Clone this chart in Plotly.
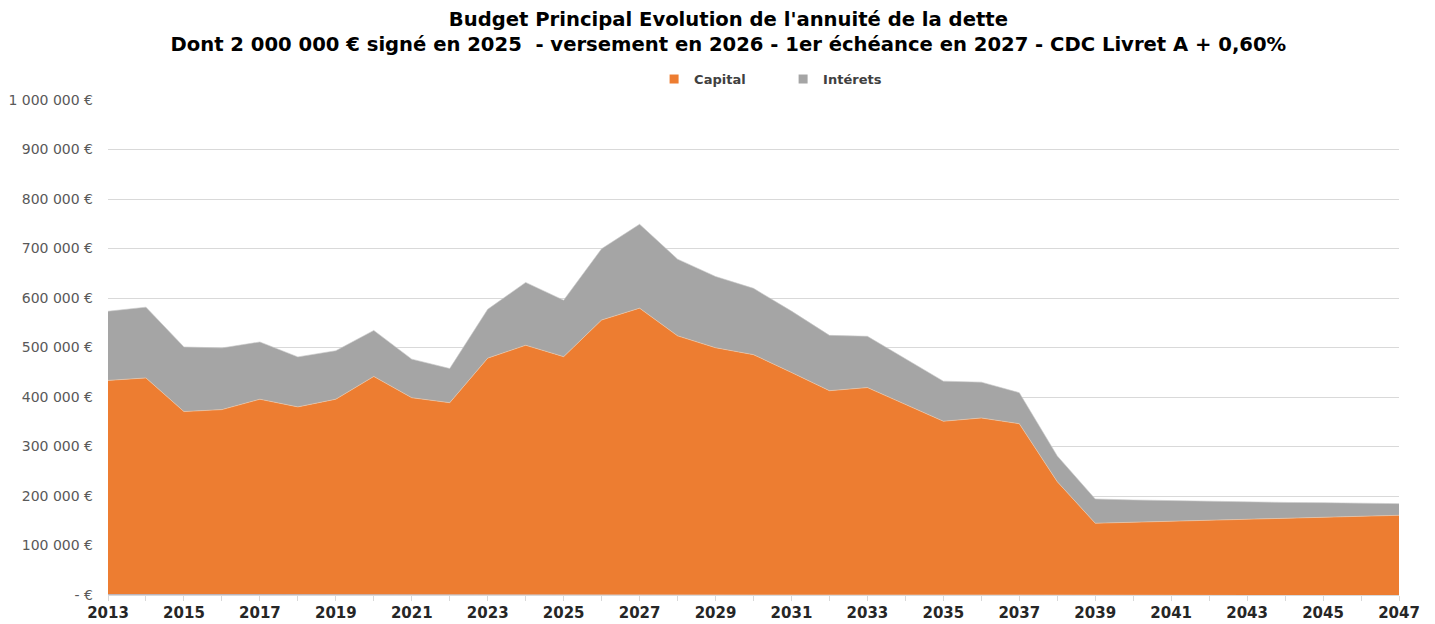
import plotly.graph_objects as go

years = list(range(2013, 2048))

# valeurs (en €)
capital = [432000, 437000, 369000, 373000, 394000, 378500, 394000, 440000, 397000, 387000,
           477000, 503000, 480000, 554000, 578000, 522000, 498000, 484000, 448000, 412700,
           419000, 384500, 351000, 357600, 346000, 229000, 145000, 147000, 149000, 151000,
           153000, 155000, 157000, 159000, 161000]
total = [571700, 580000, 499600, 497600, 509700, 479500, 492000, 533000, 475000, 456000,
         575700, 630000, 594000, 698000, 747500, 677000, 642000, 618000, 572000, 524500,
         522600, 477500, 432000, 430000, 408700, 281000, 194000, 192000, 190500, 189500,
         188000, 187000, 186500, 185500, 184500]
interets = [t - c for t, c in zip(total, capital)]
# petite série en bas (trait bleu)
autres = [1500] * 19 + [0] * 16

y_ticks = list(range(0, 1000001, 100000))
y_labels = ['- €'] + [f"{v:,}".replace(',', ' ') + ' €' for v in y_ticks[1:]]
x_ticks = list(range(2013, 2048, 2))

font = 'DejaVu Sans, Verdana, sans-serif'
orange, gris = '#ED7D31', '#A5A5A5'

fig = go.Figure()
fig.add_trace(go.Scatter(x=years, y=autres, name='Autres', stackgroup='one', mode='lines',
                         line=dict(width=0, color='#5B9BD5'), fillcolor='#8FB4E3',
                         showlegend=False, hoverinfo='skip'))
fig.add_trace(go.Scatter(x=years, y=capital, name='Capital', stackgroup='one', mode='lines',
                         line=dict(width=0.6, color='#F2C9A8'), fillcolor=orange, showlegend=False))
fig.add_trace(go.Scatter(x=years, y=interets, name='Intérets', stackgroup='one', mode='lines',
                         line=dict(width=0.6, color='#C8C8C8'), fillcolor=gris, showlegend=False))

# légende : petits carrés comme dans Excel
for nom, coul in [('Capital', orange), ('Intérets', gris)]:
    fig.add_trace(go.Scatter(x=[None], y=[None], mode='markers', name=f'<b>{nom}</b>',
                             marker=dict(symbol='square', size=9, color=coul)))

fig.update_layout(
    width=1435, height=624,
    paper_bgcolor='white', plot_bgcolor='white',
    margin=dict(l=100, r=44, t=92, b=37, autoexpand=False),
    font=dict(family=font, size=13, color='#404040'),
    title=dict(text="<b>Budget Principal Evolution de l'annuité de la dette<br>"
                    "Dont 2 000 000 € signé en 2025  - versement en 2026 - 1er échéance en 2027 - CDC Livret A + 0,60%</b>",
               x=0.502, xanchor='center', yref='container', y=1 - 18 / 624, yanchor='middle',
               font=dict(family=font, size=19.6, color='#000000')),
    legend=dict(orientation='h', x=0.423, xanchor='left', y=1.012, yanchor='bottom',
                traceorder='normal', font=dict(family=font, size=13, color='#404040'),
                itemwidth=30, entrywidth=84),
    showlegend=True,
)
fig.update_xaxes(range=[2013, 2047], tickvals=x_ticks, ticktext=[f"<b>{y}</b>" for y in x_ticks],
                 ticks='outside', ticklen=4, tickcolor='#D9D9D9', automargin=False,
                 minor=dict(dtick=1, ticks='outside', ticklen=5, tickcolor='#D9D9D9'),
                 showline=True, linecolor='#D9D9D9', showgrid=False, zeroline=False,
                 tickfont=dict(family=font, size=15, color='#262626'))
fig.update_yaxes(range=[0, 1000000], tickvals=y_ticks, ticktext=y_labels,
                 showgrid=True, gridcolor='#D9D9D9', gridwidth=1, zeroline=False,
                 ticks='', ticklabelstandoff=14, automargin=False,
                 tickfont=dict(family=font, size=14, color='#595959'))

fig.write_html("out.html")
